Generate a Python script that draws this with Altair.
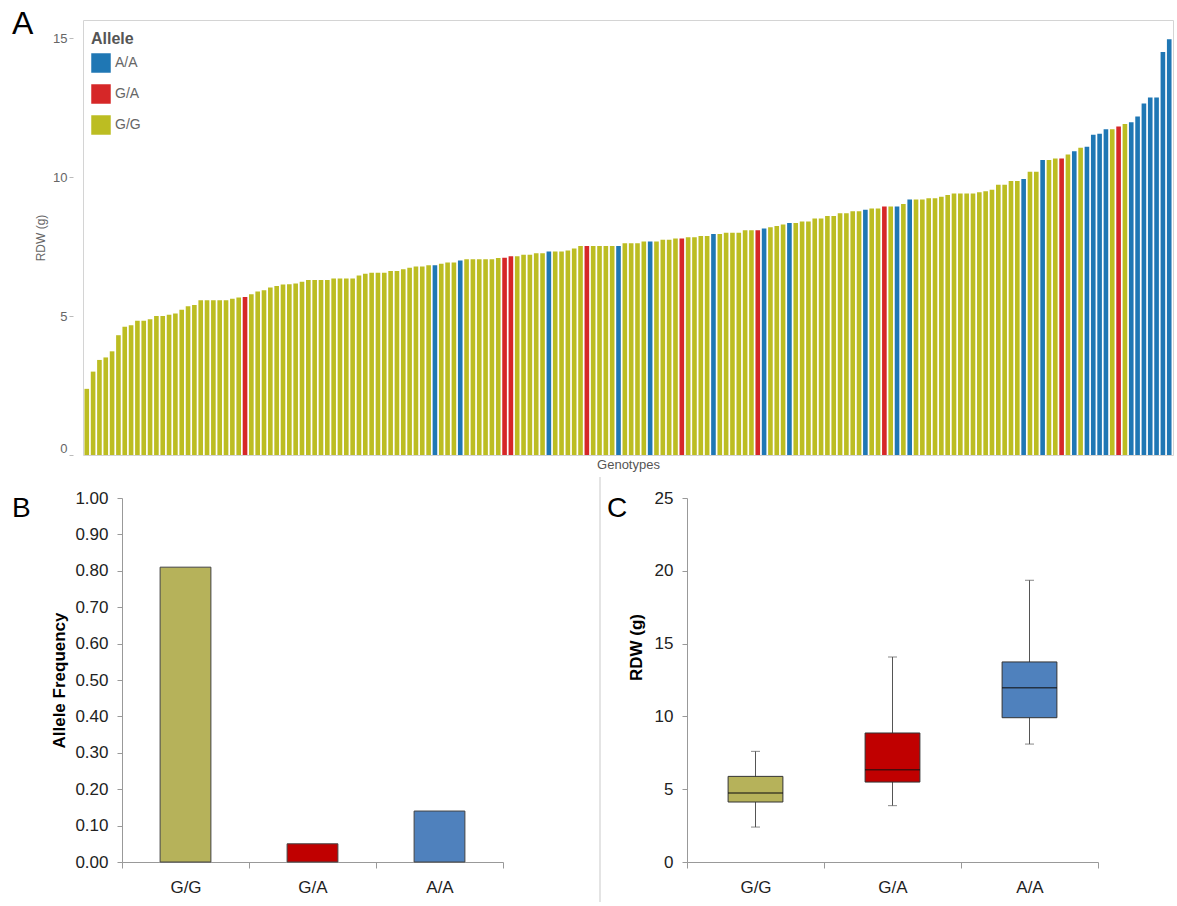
import altair as alt
import pandas as pd

# ---------------- Panel A data: RDW per genotype line, sorted ----------------
rdw_values = [
    2.38, 3.0, 3.42, 3.51, 3.73, 4.31, 4.61, 4.67, 4.83, 4.83,
    4.88, 5.0, 5.0, 5.05, 5.09, 5.23, 5.35, 5.4, 5.57, 5.57,
    5.57, 5.57, 5.57, 5.62, 5.67, 5.68, 5.78, 5.88, 5.93, 6.03,
    6.08, 6.13, 6.14, 6.17,
    6.23, 6.3, 6.3, 6.3, 6.3, 6.35, 6.35, 6.35, 6.35, 6.46,
    6.52, 6.56, 6.56, 6.56, 6.62, 6.62, 6.68, 6.74, 6.78, 6.78,
    6.83, 6.83, 6.88, 6.93, 6.93, 7.0, 7.04, 7.04, 7.04, 7.04,
    7.04, 7.09, 7.1, 7.15, 7.15, 7.2,
    7.2, 7.26, 7.26, 7.32, 7.32, 7.32, 7.36, 7.43, 7.52, 7.52,
    7.52, 7.52, 7.52, 7.52, 7.52, 7.62, 7.62, 7.62, 7.68, 7.68,
    7.68, 7.74, 7.74, 7.79, 7.79, 7.83, 7.83, 7.88, 7.88, 7.95,
    7.95, 8.0, 8.0, 8.0,
    8.09, 8.09, 8.09, 8.15, 8.19, 8.24, 8.29, 8.35, 8.35, 8.4,
    8.4, 8.51, 8.51, 8.6, 8.6, 8.7, 8.7, 8.77, 8.77, 8.82,
    8.87, 8.87, 8.94, 8.94, 8.94, 9.03, 9.19, 9.19, 9.19, 9.24,
    9.24, 9.29, 9.35, 9.41, 9.41,
    9.41, 9.41, 9.45, 9.49, 9.54, 9.72, 9.72, 9.86, 9.86,
    9.93, 10.19, 10.19, 10.61, 10.61, 10.67, 10.67, 10.81, 10.93, 11.05,
    11.09, 11.52, 11.56, 11.72, 11.72, 11.82, 11.91, 11.97, 12.18, 12.65,
    12.86, 12.86, 14.5, 14.96,
]
# 1-based positions of heterozygous (G/A) and homozygous A/A bars; the rest are G/G
ga_positions = [26, 67, 68, 80, 95, 107, 127, 155, 164]
aa_positions = [56, 60, 74, 85, 90, 100, 108, 112, 124, 129, 131, 149, 152,
                157, 159, 160, 161, 162, 166, 167, 168, 169, 170, 171, 172]

# ---------------- Panel B data ----------------
allele_labels = ["G/G", "G/A", "A/A"]
allele_freq = [0.81, 0.05, 0.14]

# ---------------- Panel C data (box plot summaries) ----------------
box_low = [2.4, 3.87, 8.1]
box_q1 = [4.12, 5.49, 9.91]
box_median = [4.74, 6.34, 11.97]
box_q3 = [5.88, 8.86, 13.74]
box_high = [7.6, 14.08, 19.35]

panel_letters = ["A", "B", "C"]

# ---------------- Build tables ----------------
genotype = []
for i in range(1, len(rdw_values) + 1):
    if i in ga_positions:
        genotype.append("G/A")
    elif i in aa_positions:
        genotype.append("A/A")
    else:
        genotype.append("G/G")
df_a = pd.DataFrame({"idx": list(range(1, len(rdw_values) + 1)),
                     "rdw": rdw_values, "Allele": genotype})
df_b = pd.DataFrame({"genotype": allele_labels, "freq": allele_freq})
df_c = pd.DataFrame({"genotype": allele_labels, "low": box_low, "q1": box_q1,
                     "median": box_median, "q3": box_q3, "high": box_high})

FONT = "Liberation Sans"

# ---------------- Panel A ----------------
bars_a = alt.Chart(df_a).mark_bar().encode(
    x=alt.X("idx:O", scale=alt.Scale(paddingInner=0.27, paddingOuter=0.23),
            axis=alt.Axis(labels=False, ticks=False, domain=False, title="Genotypes",
                          titleFontSize=13, titleFontWeight="normal", titleColor="#555",
                          titlePadding=3)),
    y=alt.Y("rdw:Q", scale=alt.Scale(domain=[0, 15.65], nice=False),
            axis=alt.Axis(values=[0, 5, 10, 15], title="RDW (g)", titleFontSize=12,
                          titleFontWeight="normal", titleColor="#666", titlePadding=5,
                          labelFontSize=13, labelColor="#666", labelFlush=True,
                          domain=False, tickColor="#bbb", tickSize=4, offset=10,
                          labelPadding=2)),
    color=alt.Color("Allele:N",
                    scale=alt.Scale(domain=["A/A", "G/A", "G/G"],
                                    range=["#1f77b4", "#d62728", "#bcbd22"]),
                    legend=alt.Legend(orient="none", legendX=8, legendY=11, title="Allele",
                                      titleFontSize=16, titleFontWeight="bold",
                                      titleColor="#555", labelFontSize=14,
                                      labelColor="#666", symbolType="square",
                                      symbolSize=380, symbolStrokeWidth=0,
                                      rowPadding=11, titlePadding=6, padding=0,
                                      labelOffset=4)),
)
letter_a = alt.Chart(pd.DataFrame({"t": [panel_letters[0]]})).mark_text(
    fontSize=32, font=FONT, color="#000", align="left", baseline="alphabetic"
).encode(text="t:N", x=alt.value(-71), y=alt.value(14))

panel_a = alt.layer(bars_a, letter_a).properties(
    width=1090, height=435, view=alt.ViewBackground(stroke="#d4d4d4"))

# ---------------- Panel B ----------------
# B's plot is laid out from the same left edge as A; its axis sits 39 px further right.
B_SHIFT = 39
color_bc = alt.Scale(domain=allele_labels, range=["#b6b25a", "#c00000", "#4f81bd"])


def x_bc_axis():
    return alt.Axis(tickBand="extent", labelAngle=0, title=None, domainColor="#999",
                    tickColor="#999", tickSize=6, labelFontSize=17, labelColor="#222",
                    labelPadding=11)


bars_b = alt.Chart(df_b).mark_bar(width=alt.RelativeBandSize(0.4), stroke="#444",
                                  strokeWidth=1).encode(
    x=alt.X("genotype:N", sort=allele_labels,
            scale=alt.Scale(paddingInner=0, paddingOuter=0, range=[B_SHIFT, B_SHIFT + 381]),
            axis=x_bc_axis()),
    y=alt.Y("freq:Q", scale=alt.Scale(domain=[0, 1], nice=False),
            axis=alt.Axis(values=[i / 10 for i in range(11)], format=".2f",
                          title="Allele Frequency", titleFontSize=17,
                          titleFontWeight="bold", titleColor="#000", titlePadding=6,
                          labelFontSize=17, labelColor="#222", domainColor="#999",
                          tickColor="#999", tickSize=5, labelPadding=9,
                          offset=-B_SHIFT)),
    color=alt.Color("genotype:N", scale=color_bc, legend=None),
)
letter_b = alt.Chart(pd.DataFrame({"t": [panel_letters[1]]})).mark_text(
    fontSize=28, font=FONT, color="#000", align="left", baseline="alphabetic"
).encode(text="t:N", x=alt.value(-71), y=alt.value(19))
panel_b = alt.layer(bars_b, letter_b).properties(width=B_SHIFT + 381, height=364)

# ---------------- Panel C ----------------
base_c = alt.Chart(df_c).encode(
    x=alt.X("genotype:N", sort=allele_labels,
            scale=alt.Scale(paddingInner=0, paddingOuter=0), axis=x_bc_axis())
)
y_c = alt.Scale(domain=[0, 25], nice=False)
y_c_axis = alt.Axis(values=[0, 5, 10, 15, 20, 25], title="RDW (g)", titleFontSize=17,
                    titleFontWeight="bold", titleColor="#000", titleX=-42, titleY=149,
                    labelFontSize=17, labelColor="#222", domainColor="#999",
                    tickColor="#999", tickSize=5, labelPadding=9)
whisker = base_c.mark_rule(color="#555", strokeWidth=1).encode(
    y=alt.Y("low:Q", scale=y_c, axis=y_c_axis), y2="high:Q")
cap_low = base_c.mark_tick(color="#555", size=9, thickness=1).encode(y=alt.Y("low:Q", scale=y_c))
cap_high = base_c.mark_tick(color="#555", size=9, thickness=1).encode(y=alt.Y("high:Q", scale=y_c))
box = base_c.mark_bar(width=alt.RelativeBandSize(0.4), stroke="#333", strokeWidth=1).encode(
    y=alt.Y("q1:Q", scale=y_c), y2="q3:Q",
    color=alt.Color("genotype:N", scale=color_bc, legend=None))
med = base_c.mark_tick(color="#111", size=55, thickness=1.5).encode(y=alt.Y("median:Q", scale=y_c))
letter_c = alt.Chart(pd.DataFrame({"t": [panel_letters[2]]})).mark_text(
    fontSize=28, font=FONT, color="#000", align="left", baseline="alphabetic"
).encode(text="t:N", x=alt.value(-80), y=alt.value(19))
# faint panel separator between B and C
separator = alt.Chart(pd.DataFrame({"t": [panel_letters[2]]})).mark_rule(
    color="#e4e4e4", strokeWidth=2
).encode(x=alt.value(-87), y=alt.value(-21), y2=alt.value(404))
panel_c = alt.layer(separator, whisker, cap_low, cap_high, box, med, letter_c).properties(
    width=411, height=364)

bottom = alt.hconcat(panel_b, panel_c, spacing=95).resolve_scale(color="independent")

chart = alt.concat(panel_a, bottom, columns=1, spacing=4).resolve_scale(
    color="independent"
).properties(
    padding={"left": 11, "top": 7, "right": 0, "bottom": 0}
).configure(font=FONT).configure_view(stroke=None).configure_axis(grid=False)

chart.save("out.html", embed_options={"renderer": "svg", "actions": False})
